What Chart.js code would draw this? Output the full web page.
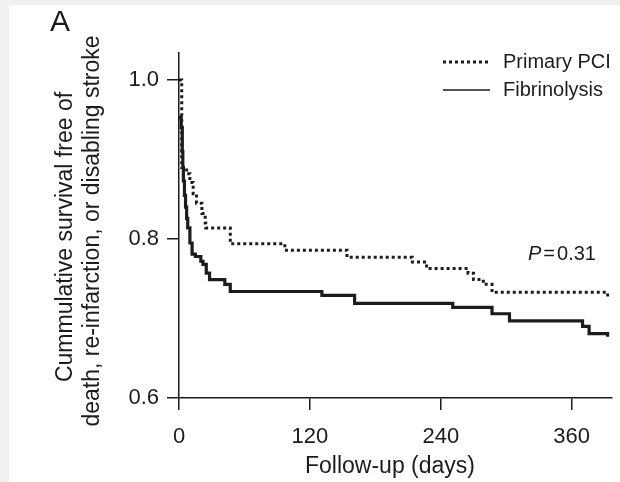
<!DOCTYPE html>
<html>
<head>
<meta charset="utf-8">
<script src="https://cdn.jsdelivr.net/npm/chart.js@4.4.1/dist/chart.umd.min.js"></script>
<style>
  html, body { margin: 0; padding: 0; background: #f0f0f0; }
  canvas { display: block; }
</style>
</head>
<body>
<canvas id="kmChart" width="620" height="482"></canvas>
<script>
// Kaplan-Meier steps: day of event, survival after it
const pciDays = [0, 2.5, 7, 10, 13, 16, 21, 24, 24.5, 47, 97, 154, 214, 227, 265, 270, 279, 287, 393];
const pciSurv = [1.0, 0.89, 0.882, 0.871, 0.857, 0.845, 0.832, 0.82, 0.814, 0.794, 0.786, 0.777, 0.771, 0.763, 0.757, 0.749, 0.743, 0.733, 0.727];
const fibDays = [0, 2, 3, 3.5, 4, 5, 6, 7, 8, 10, 12, 15, 20, 22, 25, 28, 42, 47, 131, 161, 251, 287, 303, 370, 376, 393];
const fibSurv = [0.953, 0.94, 0.91, 0.89, 0.873, 0.855, 0.84, 0.826, 0.814, 0.795, 0.781, 0.778, 0.772, 0.768, 0.757, 0.749, 0.743, 0.734, 0.729, 0.719, 0.714, 0.706, 0.697, 0.69, 0.681, 0.677];
const seriesNames = ['Primary PCI', 'Fibrinolysis'];
const xTicks = [0, 120, 240, 360];
const yTicks = [0.6, 0.8, 1.0];
const pValue = '0.31';

const FONT = '"Liberation Sans", Arial, Helvetica, sans-serif';
const INK = '#1c1c1c';

function toPoints(days, surv) {
    return days.map((d, i) => ({ x: d, y: surv[i] }));
}

// background panel, legend, titles and the P value
const annotate = {
    id: 'annotate',
    beforeDraw(chart) {
        const ctx = chart.ctx;
        ctx.save();
        ctx.fillStyle = '#f0f0f0';
        ctx.fillRect(0, 0, chart.width, chart.height);
        ctx.fillStyle = '#ffffff';
        ctx.fillRect(9, 5, chart.width - 9, chart.height - 5);
        ctx.restore();
    },
    afterDraw(chart) {
        const ctx = chart.ctx;
        ctx.save();
        ctx.fillStyle = INK;
        ctx.strokeStyle = INK;

        // panel letter
        ctx.font = '30px ' + FONT;
        ctx.textAlign = 'left';
        ctx.textBaseline = 'alphabetic';
        ctx.fillText('A', 50, 31);

        // legend
        const rows = [62, 90];
        chart.data.datasets.forEach((ds, i) => {
            ctx.beginPath();
            ctx.lineWidth = i === 0 ? 3 : 1.6;
            ctx.setLineDash(ds.borderDash || []);
            ctx.moveTo(443, rows[i]);
            ctx.lineTo(490, rows[i]);
            ctx.stroke();
            ctx.setLineDash([]);
            ctx.font = '20px ' + FONT;
            ctx.textBaseline = 'middle';
            ctx.fillText(ds.label, 503, rows[i]);
        });

        // P value
        ctx.textBaseline = 'alphabetic';
        ctx.font = 'italic 20px ' + FONT;
        ctx.fillText('P', 528, 260);
        let x = 528 + ctx.measureText('P').width + 2;
        ctx.font = '20px ' + FONT;
        ctx.fillText('=', x, 260);
        x += ctx.measureText('=').width + 2;
        ctx.fillText(pValue, x, 260);

        // axis titles
        ctx.font = '23px ' + FONT;
        ctx.textAlign = 'center';
        ctx.textBaseline = 'middle';
        ctx.fillText('Follow-up (days)', 390, 467);

        ctx.save();
        ctx.translate(66, 237);
        ctx.rotate(-Math.PI / 2);
        ctx.fillText('Cummulative survival free of', 0, 0);
        ctx.restore();
        ctx.save();
        ctx.translate(93, 231);
        ctx.rotate(-Math.PI / 2);
        ctx.fillText('death, re-infarction, or disabling stroke', 0, 0);
        ctx.restore();

        ctx.restore();
    }
};

const ctx = document.getElementById('kmChart').getContext('2d');
const kmChart = new Chart(ctx, {
    type: 'line',
    data: {
        datasets: [{
            label: seriesNames[0],
            data: toPoints(pciDays, pciSurv),
            borderColor: INK,
            borderWidth: 3,
            borderDash: [3, 3],
            borderCapStyle: 'butt',
            stepped: 'before',
            pointRadius: 0,
            fill: false
        }, {
            label: seriesNames[1],
            data: toPoints(fibDays, fibSurv),
            borderColor: INK,
            borderWidth: 3.2,
            stepped: 'before',
            pointRadius: 0,
            fill: false
        }]
    },
    options: {
        responsive: false,
        animation: false,
        layout: { padding: { top: 53, right: 8, left: 0, bottom: 0 } },
        plugins: {
            legend: { display: false },
            tooltip: { enabled: false }
        },
        scales: {
            x: {
                type: 'linear',
                min: 0,
                max: 397,
                afterBuildTicks: s => { s.ticks = xTicks.map(v => ({ value: v })); },
                afterFit: s => { s.height = 84; },
                grid: { drawOnChartArea: false, tickLength: 12, color: INK, lineWidth: 1.5 },
                border: { color: INK, width: 1.5 },
                ticks: {
                    color: INK,
                    font: { size: 22, family: FONT },
                    padding: 14,
                    maxRotation: 0,
                    autoSkip: false
                }
            },
            y: {
                min: 0.6,
                max: 1.034,
                afterBuildTicks: s => { s.ticks = yTicks.map(v => ({ value: v })); },
                afterFit: s => { s.width = 179; },
                grid: { drawOnChartArea: false, tickLength: 12, color: INK, lineWidth: 1.5 },
                border: { color: INK, width: 1.5 },
                ticks: {
                    color: INK,
                    font: { size: 22, family: FONT },
                    padding: 8,
                    callback: v => v.toFixed(1)
                }
            }
        }
    },
    plugins: [annotate]
});
</script>
</body>
</html>
